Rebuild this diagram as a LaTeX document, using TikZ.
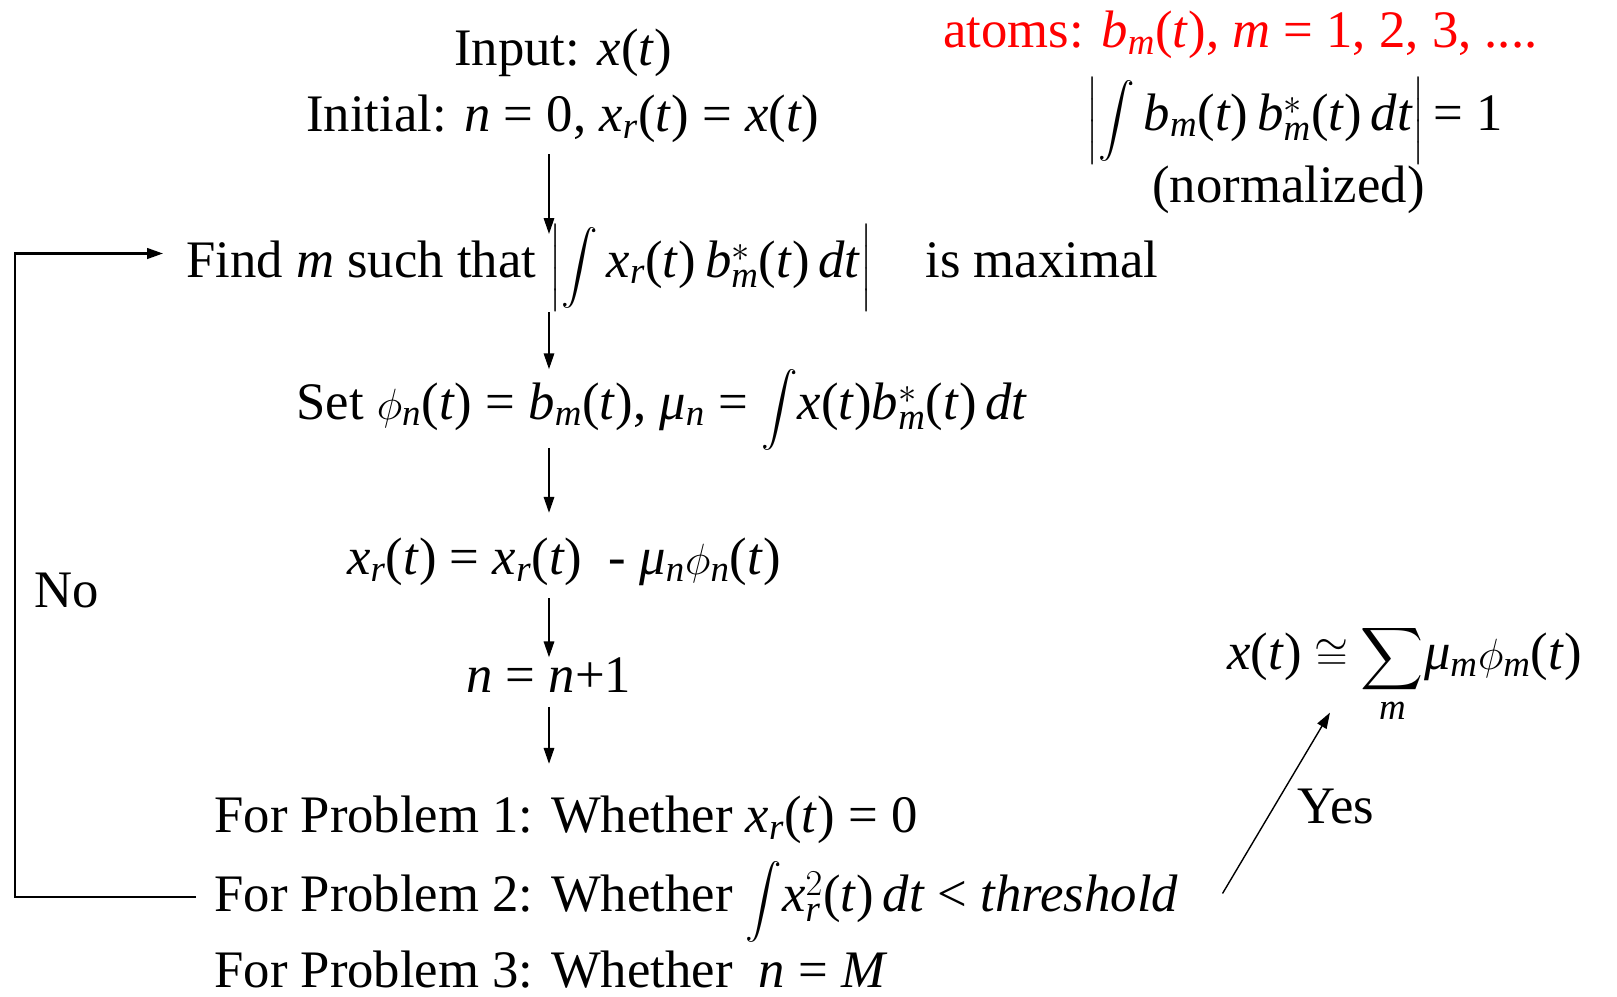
\documentclass[tikz,border=0pt]{standalone}
\usepackage{amsmath}
\usepackage{fontspec}
\setmainfont{Liberation Serif}
\usepackage{xcolor}
\usepackage{tikz}
\usetikzlibrary{positioning,arrows.meta}
\newcommand{\vi}[1]{\textit{#1}}
\newcommand{\sub}[1]{$_{\textit{#1}}$}
\newcommand{\bigint}{{\fontsize{21}{21}\selectfont$\displaystyle\int$}}
\newcommand{\absbar}{{\fontsize{21}{21}\selectfont$\bigg|$}}

\begin{document}
\begin{tikzpicture}[
      x=0.02cm, y=-0.02cm,
      txt/.style={inner sep=0pt, anchor=west, font=\fontsize{30}{36}\selectfont},
      arrow/.style={-{Triangle[length=9pt,width=6pt]}, line width=0.8pt},
      loopline/.style={-{Triangle[length=9pt,width=6pt]}, line width=1.3pt}
  ]
  \useasboundingbox (0,0) rectangle (1617,997);
  % Main column
  \node[txt] (input) at (454,53) {Input: \vi{x}(\vi{t})};
  \node[txt] (init) at (306,119) {Initial: \vi{n} = 0, \vi{x}\sub{r}(\vi{t}) = \vi{x}(\vi{t})};
  \node[txt] (find) at (186,268) {Find \vi{m} such that \absbar\bigint\,\vi{x}\sub{r}(\vi{t})\,\vi{b}$^{*}_{\vi{m}}$(\vi{t})\,\vi{dt}\absbar\quad is maximal};
  \node[txt] (set) at (296,410) {Set $\phi$\sub{n}(\vi{t}) = \vi{b}\sub{m}(\vi{t}),\ \vi{μ}\sub{n} = \bigint\vi{x}(\vi{t})\vi{b}$^{*}_{\vi{m}}$(\vi{t})\,\vi{dt}};
  \node[txt] (resid) at (347,562) {\vi{x}\sub{r}(\vi{t}) = \vi{x}\sub{r}(\vi{t})\ \ - \vi{μ}\sub{n}$\phi$\sub{n}(\vi{t})};
  \node[txt] (incr) at (466,675) {\vi{n} = \vi{n}+1};
  % Stopping tests
  \node[txt] (p1) at (214,820) {For Problem 1: Whether \vi{x}\sub{r}(\vi{t}) = 0};
  \node[txt] (p2) at (214,902) {For Problem 2: Whether \bigint\vi{x}$^{2}_{\vi{r}}$(\vi{t})\,\vi{dt} < \vi{threshold}};
  \node[txt] (p3) at (214,970) {For Problem 3: Whether\ \ \vi{n} = \vi{M}};
  % Side notes
  \node[txt, text=red] (atoms) at (943,35) {atoms: \vi{b}\sub{m}(\vi{t}), \vi{m} = 1, 2, 3, ....};
  \node[txt] (norm) at (1086,121) {\absbar\bigint\,\vi{b}\sub{m}(\vi{t})\,\vi{b}$^{*}_{\vi{m}}$(\vi{t})\,\vi{dt}\absbar\,= 1};
  \node[txt] (normd) at (1152,190) {(normalized)};
  \node[txt] (sum) at (1227,674) {\vi{x}(\vi{t}) $\cong\displaystyle\sum_{\vi{m}}$\vi{μ}\sub{m}$\phi$\sub{m}(\vi{t})};
  \node[txt] (no) at (34,590) {No};
  \node[txt] (yes) at (1297,806) {Yes};
  % Arrows
  \coordinate (ax) at (549,0);
  \coordinate (lp) at (15,575);
  \draw[arrow, shorten <=0.22cm, shorten >=-0.2cm] (init.south -| ax) -- (find.north -| ax);
  \draw[arrow] (find.south -| ax) -- (set.north -| ax);
  \draw[arrow, shorten <=-0.06cm, shorten >=0.5cm] (set.south -| ax) -- (resid.north -| ax);
  \draw[arrow, shorten <=0.24cm] (resid.south -| ax) -- (incr.north -| ax);
  \draw[arrow, shorten <=0.28cm, shorten >=0.64cm] (incr.south -| ax) -- (p1.north -| ax);
  \draw[loopline, shorten <=0.36cm, shorten >=0.46cm] ([yshift=0.1cm]p2.west) -| (lp) |- ([yshift=0.29cm]find.west);
  \draw[arrow] ([xshift=0.88cm, yshift=0.17cm]p2.east) -- ([xshift=2.06cm, yshift=0.24cm]sum.south west);
\end{tikzpicture}
\end{document}
